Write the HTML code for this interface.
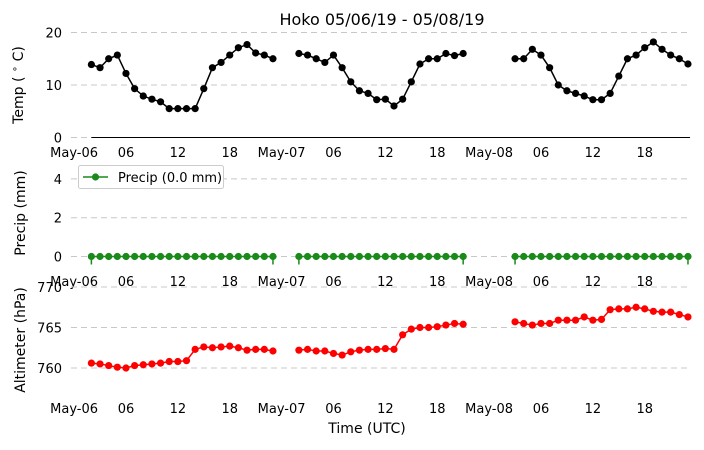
<!DOCTYPE html>
<html><head><meta charset="utf-8"><style>
body{margin:0;background:#fff}
svg text{font-family:"DejaVu Sans","Liberation Sans",sans-serif}
</style></head><body>
<svg id="chart" width="704" height="445" xmlns="http://www.w3.org/2000/svg">
<text x="382" y="25" font-size="16" text-anchor="middle">Hoko 05/06/19 - 05/08/19</text>
<text transform="translate(23,85) rotate(-90)" font-size="14" text-anchor="middle">Temp ( <tspan font-size="10" dy="-5">∘</tspan><tspan dy="5"> C)</tspan></text>
<text transform="translate(25,213) rotate(-90)" font-size="14" text-anchor="middle">Precip (mm)</text>
<text transform="translate(25,340) rotate(-90)" font-size="14" text-anchor="middle">Altimeter (hPa)</text>
<text x="367" y="433" font-size="14" text-anchor="middle">Time (UTC)</text>
<g id="g"></g>
</svg>
<script>
const hours1=[2,3,4,5,6,7,8,9,10,11,12,13,14,15,16,17,18,19,20,21,22,23];
const hours2=[26,27,28,29,30,31,32,33,34,35,36,37,38,39,40,41,42,43,44,45];
const hours3=[51,52,53,54,55,56,57,58,59,60,61,62,63,64,65,66,67,68,69,70,71];
const temp1=[13.9,13.3,15.0,15.7,12.2,9.3,7.9,7.3,6.8,5.5,5.5,5.5,5.5,9.3,13.3,14.3,15.7,17.1,17.7,16.1,15.7,15.0];
const temp2=[16.0,15.7,15.0,14.3,15.7,13.3,10.6,8.9,8.4,7.2,7.3,6.0,7.3,10.6,14.0,15.0,15.0,16.0,15.6,16.0];
const temp3=[15.0,15.0,16.8,15.7,13.3,10.0,8.9,8.4,7.9,7.2,7.2,8.4,11.7,15.0,15.7,17.1,18.2,16.8,15.7,15.0,14.0];
const precip1=hours1.map(()=>0), precip2=hours2.map(()=>0), precip3=hours3.map(()=>0);
const alt1=[760.6,760.5,760.3,760.1,760.0,760.3,760.4,760.5,760.6,760.8,760.8,760.9,762.3,762.6,762.5,762.6,762.7,762.5,762.2,762.3,762.3,762.1];
const alt2=[762.2,762.3,762.1,762.1,761.8,761.6,762.0,762.2,762.3,762.3,762.4,762.3,764.1,764.8,765.0,765.0,765.1,765.3,765.5,765.4];
const alt3=[765.7,765.5,765.3,765.5,765.5,765.9,765.9,765.9,766.3,765.9,766.0,767.2,767.3,767.3,767.5,767.3,767.0,766.9,766.9,766.6,766.3];
const xTickHours=[0,6,12,18,24,30,36,42,48,54,60,66];
const xTickLabels=["May-06","06","12","18","May-07","06","12","18","May-08","06","12","18"];
const tempTicks=[0,10,20], precipTicks=[0,2,4], altTicks=[760,765,770];

const NS="http://www.w3.org/2000/svg";
const g=document.getElementById('g');
function el(t,a,p){const e=document.createElementNS(NS,t);for(const k in a)e.setAttribute(k,a[k]);(p||g).appendChild(e);return e;}
const xS=h=>74.1+h*8.646;
const panels=[
 {name:'temp',y:v=>137.5-v*5.25,ticks:tempTicks,labY:152,color:'#000',segs:[[hours1,temp1],[hours2,temp2],[hours3,temp3]]},
 {name:'precip',y:v=>256.5-v*19.4,ticks:precipTicks,labY:281,color:'#1a8a1a',segs:[[hours1,precip1],[hours2,precip2],[hours3,precip3]]},
 {name:'alt',y:v=>368-(v-760)*8.1,ticks:altTicks,labY:408,color:'#ff0000',segs:[[hours1,alt1],[hours2,alt2],[hours3,alt3]]}
];
panels.forEach(p=>{
 const pg=el('g',{});
 
 
 p.ticks.forEach(t=>{
  const y=p.y(t);
  const gl=el('line',{x1:71,x2:690,y1:y,y2:y,stroke:'#c8c8c8','stroke-dasharray':'6,4','stroke-width':1},pg);
  
  
  const tx=el('text',{x:62,y:y+5,'font-size':13,'text-anchor':'end'},pg);
  
  
  tx.textContent=t;
 });
 xTickHours.forEach((h,i)=>{
  const tx=el('text',{x:xS(h),y:p.labY+5,'font-size':13,'text-anchor':'middle'},pg);
  
  
  tx.textContent=xTickLabels[i];
 });
 if(p.name==='temp'){
  const ax=el('line',{x1:xS(hours1[0]),x2:690,y1:p.y(0),y2:p.y(0),stroke:'#000','stroke-width':1},pg);
  
  
 }
 p.segs.forEach((s,si)=>{
  const [hs,vs]=s;
  if(p.name==='precip'){
   [hs[0],hs[hs.length-1]].forEach(h=>{
    const st=el('line',{x1:xS(h),x2:xS(h),y1:p.y(0),y2:p.y(0)+8,stroke:p.color,'stroke-width':1.5},pg);
    
    
   });
  }
  const pts=hs.map((h,i)=>xS(h)+','+p.y(vs[i])).join(' ');
  const pl=el('polyline',{points:pts,fill:'none',stroke:p.color,'stroke-width':1.5},pg);
  
  
  hs.forEach((h,i)=>{
   const c=el('circle',{cx:xS(h),cy:p.y(vs[i]),r:3.6,fill:p.color},pg);
   
   
  });
 });
});
const lg=el('g',{});


el('rect',{x:78.5,y:165.5,width:145,height:23,rx:2,fill:'#fff',stroke:'#ccc'},lg);
el('line',{x1:83,x2:108,y1:177,y2:177,stroke:'#1a8a1a','stroke-width':1.5},lg);
el('circle',{cx:95.5,cy:177,r:3.6,fill:'#1a8a1a'},lg);
const lt=el('text',{x:118,y:182,'font-size':13},lg);


lt.textContent='Precip (0.0 mm)';
</script>
</body></html>
